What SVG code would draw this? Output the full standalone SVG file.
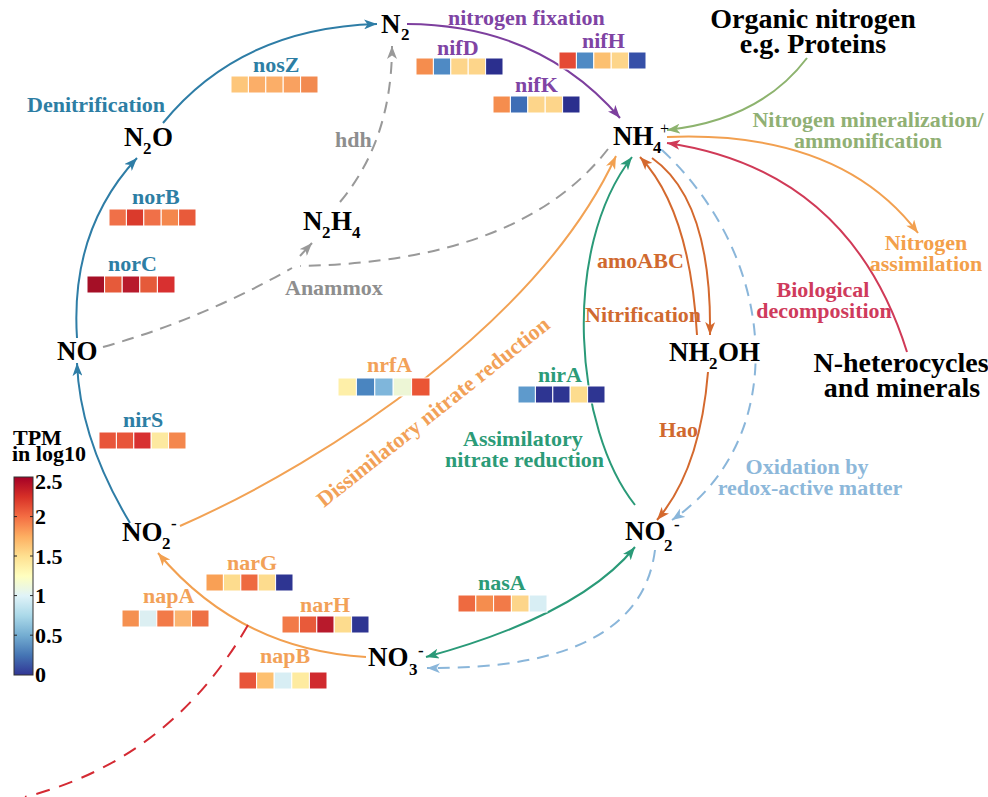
<svg xmlns="http://www.w3.org/2000/svg" width="988" height="797" viewBox="0 0 988 797">
<style>
text{font-family:"Liberation Serif","Times New Roman",serif;font-weight:bold}
.chem{font-size:27px;fill:#000}
.sub{font-size:17px}
.lbl{font-size:22px}
.big{font-size:28px;fill:#000}
.blue{fill:#2D7EA4}.purple{fill:#7F44A4}.gray{fill:#8E8E8E}.orange{fill:#F2A158}.teal{fill:#2C9B77}.brown{fill:#D0692F}.green{fill:#90B074}.crimson{fill:#CF3B5C}.lblue{fill:#8DB8DA}
.ln{fill:none;stroke-width:2}
.dash{stroke-dasharray:12 8}
.cell{stroke:#fff;stroke-width:1}
</style>
<defs>
<marker id="mBlue" markerUnits="userSpaceOnUse" markerWidth="14" markerHeight="10" refX="13" refY="5" orient="auto"><path d="M0,0 L13,5 L0,10 L3.5,5 z" fill="#2E7DA6"/></marker>
<marker id="mPurple" markerUnits="userSpaceOnUse" markerWidth="14" markerHeight="10" refX="13" refY="5" orient="auto"><path d="M0,0 L13,5 L0,10 L3.5,5 z" fill="#7D3F9E"/></marker>
<marker id="mGray" markerUnits="userSpaceOnUse" markerWidth="14" markerHeight="10" refX="13" refY="5" orient="auto"><path d="M0,0 L13,5 L0,10 L3.5,5 z" fill="#999"/></marker>
<marker id="mOrange" markerUnits="userSpaceOnUse" markerWidth="14" markerHeight="10" refX="13" refY="5" orient="auto"><path d="M0,0 L13,5 L0,10 L3.5,5 z" fill="#F2A050"/></marker>
<marker id="mTeal" markerUnits="userSpaceOnUse" markerWidth="14" markerHeight="10" refX="13" refY="5" orient="auto-start-reverse"><path d="M0,0 L13,5 L0,10 L3.5,5 z" fill="#2A9A78"/></marker>
<marker id="mBrown" markerUnits="userSpaceOnUse" markerWidth="14" markerHeight="10" refX="13" refY="5" orient="auto"><path d="M0,0 L13,5 L0,10 L3.5,5 z" fill="#D4692E"/></marker>
<marker id="mLblue" markerUnits="userSpaceOnUse" markerWidth="14" markerHeight="10" refX="13" refY="5" orient="auto"><path d="M0,0 L13,5 L0,10 L3.5,5 z" fill="#8AB6DA"/></marker>
<marker id="mGreen" markerUnits="userSpaceOnUse" markerWidth="14" markerHeight="10" refX="13" refY="5" orient="auto"><path d="M0,0 L13,5 L0,10 L3.5,5 z" fill="#8DB36E"/></marker>
<marker id="mCrimson" markerUnits="userSpaceOnUse" markerWidth="14" markerHeight="10" refX="13" refY="5" orient="auto"><path d="M0,0 L13,5 L0,10 L3.5,5 z" fill="#D03A57"/></marker>
<linearGradient id="cbar" x1="0" y1="0" x2="0" y2="1">
<stop offset="0" stop-color="#A50026"/><stop offset="0.1" stop-color="#D73027"/><stop offset="0.2" stop-color="#F46D43"/><stop offset="0.3" stop-color="#FDAE61"/><stop offset="0.4" stop-color="#FEE090"/><stop offset="0.5" stop-color="#FFFFBF"/><stop offset="0.6" stop-color="#E0F3F8"/><stop offset="0.7" stop-color="#ABD9E9"/><stop offset="0.8" stop-color="#74ADD1"/><stop offset="0.9" stop-color="#4575B4"/><stop offset="1" stop-color="#313695"/>
</linearGradient>
</defs>
<rect width="988" height="797" fill="#fff"/>

<g id="connectors">
<path class="ln" stroke="#2E7DA6" d="M130,523 Q80,440 77,363" marker-end="url(#mBlue)"/>
<path class="ln" stroke="#2E7DA6" d="M77,338 Q70,230 137,158" marker-end="url(#mBlue)"/>
<path class="ln" stroke="#2E7DA6" d="M163,123 Q240,28 377,24" marker-end="url(#mBlue)"/>
<path class="ln" stroke="#7D3F9E" d="M407,24 Q540,25 620,118" marker-end="url(#mPurple)"/>
<path class="ln dash" stroke="#999" d="M340,202 Q392,140 392,46" marker-end="url(#mGray)"/>
<path class="ln dash" stroke="#999" d="M608,149 Q520,262 300,266"/>
<path class="ln dash" stroke="#999" d="M103,347 Q200,320 292,268"/>
<path class="ln" stroke="#999" d="M300,256 L312,243" marker-end="url(#mGray)"/>
<path class="ln" stroke="#F2A254" d="M180,526 C330,460 540,320 616,156" marker-end="url(#mOrange)"/>
<path class="ln" stroke="#2A9A78" d="M635,505 C575,430 560,250 632,157" marker-end="url(#mTeal)"/>
<path class="ln" stroke="#2A9A78" d="M426,657 Q580,615 635,547" marker-start="url(#mTeal)" marker-end="url(#mTeal)"/>
<path class="ln dash" stroke="#8AB6DA" d="M662,150 C780,260 790,440 672,520" marker-end="url(#mLblue)"/>
<path class="ln dash" stroke="#8AB6DA" d="M655,550 Q640,670 427,668" marker-end="url(#mLblue)"/>
<path class="ln" stroke="#D4692E" d="M697,335 Q690,210 640,157" marker-end="url(#mBrown)"/>
<path class="ln" stroke="#D4692E" d="M652,158 Q712,200 710,335" marker-end="url(#mBrown)"/>
<path class="ln" stroke="#D4692E" d="M708,372 Q700,470 657,520" marker-end="url(#mBrown)"/>
<path class="ln" stroke="#8DB36E" d="M807,58 Q760,120 667,130" marker-end="url(#mGreen)"/>
<path class="ln" stroke="#F2A050" d="M667,137 Q840,130 918,233" marker-end="url(#mOrange)"/>
<path class="ln" stroke="#D03A57" d="M907,352 Q850,170 667,143" marker-end="url(#mCrimson)"/>
<path class="ln" stroke="#F2A050" d="M366,657 Q240,650 158,553" marker-end="url(#mOrange)"/>
<path class="ln" stroke="#D42A33" stroke-dasharray="14 10" d="M248,625 Q170,760 25,797"/>
</g>

<g id="n-N2"><text class="chem" x="381" y="33">N</text><text class="chem sub" x="401" y="40">2</text></g>
<g id="n-N2O"><text class="chem" x="124" y="146">N</text><text class="chem sub" x="143" y="154">2</text><text class="chem" x="152" y="146">O</text></g>
<g id="n-N2H4"><text class="chem" x="303" y="230">N</text><text class="chem sub" x="322" y="238">2</text><text class="chem" x="331" y="230">H</text><text class="chem sub" x="352" y="238">4</text></g>
<g id="n-NH4"><text class="chem" x="613" y="145">NH</text><text class="chem sub" x="653" y="153">4</text><text class="chem" x="660" y="134" style="font-size:16px;font-weight:normal">+</text></g>
<g id="n-NO"><text class="chem" x="57" y="360">NO</text></g>
<g id="n-NO2-left"><text class="chem" x="122" y="541">NO</text><text class="chem sub" x="162" y="549">2</text><text class="chem sub" x="171" y="529">-</text></g>
<g id="n-NH2OH"><text class="chem" x="669" y="361">NH</text><text class="chem sub" x="709" y="369">2</text><text class="chem" x="718" y="361">OH</text></g>
<g id="n-NO2-right"><text class="chem" x="625" y="540">NO</text><text class="chem sub" x="664" y="551">2</text><text class="chem sub" x="674" y="530">-</text></g>
<g id="n-NO3"><text class="chem" x="368" y="666">NO</text><text class="chem sub" x="409" y="675">3</text><text class="chem sub" x="418" y="656">-</text></g>

<g id="n-organic"><text class="big" x="813" y="28" text-anchor="middle">Organic nitrogen</text><text class="big" x="813" y="53" text-anchor="middle">e.g. Proteins</text></g>
<g id="n-heterocycles"><text class="big" x="901" y="372" text-anchor="middle">N-heterocycles</text><text class="big" x="902" y="397" text-anchor="middle">and minerals</text></g>

<g id="p-denit"><text class="lbl blue" x="27" y="112">Denitrification</text></g>
<g id="p-fix"><text class="lbl purple" x="448" y="25">nitrogen fixation</text></g>
<g id="p-hdh"><text class="lbl gray" x="335" y="147">hdh</text></g>
<g id="p-anammox"><text class="lbl gray" x="285" y="295">Anammox</text></g>
<g id="p-dissim"><text class="lbl orange" transform="translate(324,508) rotate(-38.5)">Dissimilatory nitrate reduction</text></g>
<g id="p-assim"><text class="lbl teal" x="463" y="446">Assimilatory</text><text class="lbl teal" x="445" y="467">nitrate reduction</text></g>
<g id="p-amo"><text class="lbl brown" x="597" y="268">amoABC</text></g>
<g id="p-nitrif"><text class="lbl brown" x="585" y="322">Nitrification</text></g>
<g id="p-hao"><text class="lbl brown" x="659" y="437">Hao</text></g>
<g id="p-mineral"><text class="lbl green" x="868" y="127" text-anchor="middle">Nitrogen mineralization/</text><text class="lbl green" x="868" y="148" text-anchor="middle">ammonification</text></g>
<g id="p-nassim"><text class="lbl" fill="#F3A04A" x="926" y="250" text-anchor="middle">Nitrogen</text><text class="lbl" fill="#F3A04A" x="926" y="271" text-anchor="middle">assimilation</text></g>
<g id="p-bio"><text class="lbl crimson" x="823" y="297" text-anchor="middle">Biological</text><text class="lbl crimson" x="824" y="318" text-anchor="middle">decomposition</text></g>
<g id="p-oxid"><text class="lbl lblue" x="807" y="474" text-anchor="middle">Oxidation by</text><text class="lbl lblue" x="810" y="495" text-anchor="middle">redox-active matter</text></g>

<g id="g-nosZ"><text class="lbl blue" x="253" y="72">nosZ</text>
<rect class="cell" x="231" y="76" width="17.4" height="17" fill="#FDC67A"/><rect class="cell" x="248.4" y="76" width="17.4" height="17" fill="#FBAE68"/><rect class="cell" x="265.8" y="76" width="17.4" height="17" fill="#FBAE68"/><rect class="cell" x="283.2" y="76" width="17.4" height="17" fill="#F9A160"/><rect class="cell" x="300.6" y="76" width="17.4" height="17" fill="#F28A50"/></g>
<g id="g-norB"><text class="lbl blue" x="132" y="204">norB</text>
<rect class="cell" x="109" y="209" width="17.4" height="17" fill="#F07048"/><rect class="cell" x="126.4" y="209" width="17.4" height="17" fill="#DA3A2C"/><rect class="cell" x="143.8" y="209" width="17.4" height="17" fill="#F07048"/><rect class="cell" x="161.2" y="209" width="17.4" height="17" fill="#F4874D"/><rect class="cell" x="178.6" y="209" width="17.4" height="17" fill="#E85A3A"/></g>
<g id="g-norC"><text class="lbl blue" x="108" y="271">norC</text>
<rect class="cell" x="87" y="276" width="17.6" height="17" fill="#A50F26"/><rect class="cell" x="104.6" y="276" width="17.6" height="17" fill="#E65A3A"/><rect class="cell" x="122.2" y="276" width="17.6" height="17" fill="#B81A2C"/><rect class="cell" x="139.8" y="276" width="17.6" height="17" fill="#E55A3A"/><rect class="cell" x="157.4" y="276" width="17.6" height="17" fill="#D83030"/></g>
<g id="g-nirS"><text class="lbl blue" x="123" y="427">nirS</text>
<rect class="cell" x="99" y="432" width="17.4" height="17" fill="#E8553A"/><rect class="cell" x="116.4" y="432" width="17.4" height="17" fill="#E8553A"/><rect class="cell" x="133.8" y="432" width="17.4" height="17" fill="#D83030"/><rect class="cell" x="151.2" y="432" width="17.4" height="17" fill="#FDE9A0"/><rect class="cell" x="168.6" y="432" width="17.4" height="17" fill="#F4874D"/></g>
<g id="g-nifD"><text class="lbl purple" x="437" y="55">nifD</text>
<rect class="cell" x="416" y="58" width="17.4" height="17" fill="#F58D4E"/><rect class="cell" x="433.4" y="58" width="17.4" height="17" fill="#4F8AC4"/><rect class="cell" x="450.8" y="58" width="17.4" height="17" fill="#FDD58A"/><rect class="cell" x="468.2" y="58" width="17.4" height="17" fill="#FDD58A"/><rect class="cell" x="485.6" y="58" width="17.4" height="17" fill="#2B2F8E"/></g>
<g id="g-nifH"><text class="lbl purple" x="582" y="48">nifH</text>
<rect class="cell" x="559" y="52" width="17.4" height="17" fill="#E54A35"/><rect class="cell" x="576.4" y="52" width="17.4" height="17" fill="#4F8AC4"/><rect class="cell" x="593.8" y="52" width="17.4" height="17" fill="#FCC070"/><rect class="cell" x="611.2" y="52" width="17.4" height="17" fill="#FDD58A"/><rect class="cell" x="628.6" y="52" width="17.4" height="17" fill="#3650A8"/></g>
<g id="g-nifK"><text class="lbl purple" x="515" y="92">nifK</text>
<rect class="cell" x="493" y="96" width="17.4" height="17" fill="#F58D4E"/><rect class="cell" x="510.4" y="96" width="17.4" height="17" fill="#3E6EB6"/><rect class="cell" x="527.8" y="96" width="17.4" height="17" fill="#FDD58A"/><rect class="cell" x="545.2" y="96" width="17.4" height="17" fill="#FDD58A"/><rect class="cell" x="562.6" y="96" width="17.4" height="17" fill="#2B2F8E"/></g>
<g id="g-nrfA"><text class="lbl orange" x="367" y="372">nrfA</text>
<rect class="cell" x="338" y="378" width="18.4" height="18" fill="#FEEFA8"/><rect class="cell" x="356.4" y="378" width="18.4" height="18" fill="#4A85C0"/><rect class="cell" x="374.8" y="378" width="18.4" height="18" fill="#7FB6DB"/><rect class="cell" x="393.2" y="378" width="18.4" height="18" fill="#EDF6D6"/><rect class="cell" x="411.6" y="378" width="18.4" height="18" fill="#EA5535"/></g>
<g id="g-nirA"><text class="lbl teal" x="538" y="382">nirA</text>
<rect class="cell" x="518" y="386" width="17.4" height="17" fill="#5E9ACC"/><rect class="cell" x="535.4" y="386" width="17.4" height="17" fill="#2E3592"/><rect class="cell" x="552.8" y="386" width="17.4" height="17" fill="#2E3592"/><rect class="cell" x="570.2" y="386" width="17.4" height="17" fill="#FDDC8E"/><rect class="cell" x="587.6" y="386" width="17.4" height="17" fill="#2E3592"/></g>
<g id="g-narG"><text class="lbl orange" x="227" y="570">narG</text>
<rect class="cell" x="206" y="574" width="17.4" height="17" fill="#F9A055"/><rect class="cell" x="223.4" y="574" width="17.4" height="17" fill="#FDDC8E"/><rect class="cell" x="240.8" y="574" width="17.4" height="17" fill="#EE6A40"/><rect class="cell" x="258.2" y="574" width="17.4" height="17" fill="#FDDC8E"/><rect class="cell" x="275.6" y="574" width="17.4" height="17" fill="#2E3592"/></g>
<g id="g-napA"><text class="lbl orange" x="143" y="603">napA</text>
<rect class="cell" x="122" y="610" width="17.4" height="17" fill="#F59050"/><rect class="cell" x="139.4" y="610" width="17.4" height="17" fill="#DCEFF2"/><rect class="cell" x="156.8" y="610" width="17.4" height="17" fill="#F27A48"/><rect class="cell" x="174.2" y="610" width="17.4" height="17" fill="#FBB470"/><rect class="cell" x="191.6" y="610" width="17.4" height="17" fill="#EE7044"/></g>
<g id="g-narH"><text class="lbl orange" x="300" y="612">narH</text>
<rect class="cell" x="282" y="616" width="17.4" height="17" fill="#F27A48"/><rect class="cell" x="299.4" y="616" width="17.4" height="17" fill="#E85A3A"/><rect class="cell" x="316.8" y="616" width="17.4" height="17" fill="#B81A2C"/><rect class="cell" x="334.2" y="616" width="17.4" height="17" fill="#FDDC8E"/><rect class="cell" x="351.6" y="616" width="17.4" height="17" fill="#2E3592"/></g>
<g id="g-napB"><text class="lbl orange" x="260" y="663">napB</text>
<rect class="cell" x="239" y="672" width="17.6" height="17" fill="#E8553A"/><rect class="cell" x="256.6" y="672" width="17.6" height="17" fill="#FDC070"/><rect class="cell" x="274.2" y="672" width="17.6" height="17" fill="#D8EEF4"/><rect class="cell" x="291.8" y="672" width="17.6" height="17" fill="#FEEBA0"/><rect class="cell" x="309.4" y="672" width="17.6" height="17" fill="#D02A2E"/></g>
<g id="g-nasA"><text class="lbl teal" x="478" y="590">nasA</text>
<rect class="cell" x="458" y="595" width="17.8" height="17" fill="#EE6A40"/><rect class="cell" x="475.8" y="595" width="17.8" height="17" fill="#F58D4E"/><rect class="cell" x="493.6" y="595" width="17.8" height="17" fill="#F27A48"/><rect class="cell" x="511.4" y="595" width="17.8" height="17" fill="#FDD58A"/><rect class="cell" x="529.2" y="595" width="17.8" height="17" fill="#D8EEF4"/></g>

<g id="legend">
<text class="lbl" fill="#000" x="13" y="445">TPM</text>
<text class="lbl" fill="#000" x="12" y="461">in log10</text>
<rect x="14" y="477" width="19" height="198" fill="url(#cbar)" stroke="#333" stroke-width="1"/>
<g stroke="#222" stroke-width="1">
<path d="M14,516.6h3M30,516.6h3M14,556h3M30,556h3M14,595.6h3M30,595.6h3M14,635.2h3M30,635.2h3"/>
</g>
<g class="lbl" fill="#000">
<text x="35" y="489">2.5</text>
<text x="35" y="524">2</text>
<text x="35" y="564">1.5</text>
<text x="35" y="603">1</text>
<text x="35" y="643">0.5</text>
<text x="35" y="682">0</text>
</g>
</g>
</svg>
